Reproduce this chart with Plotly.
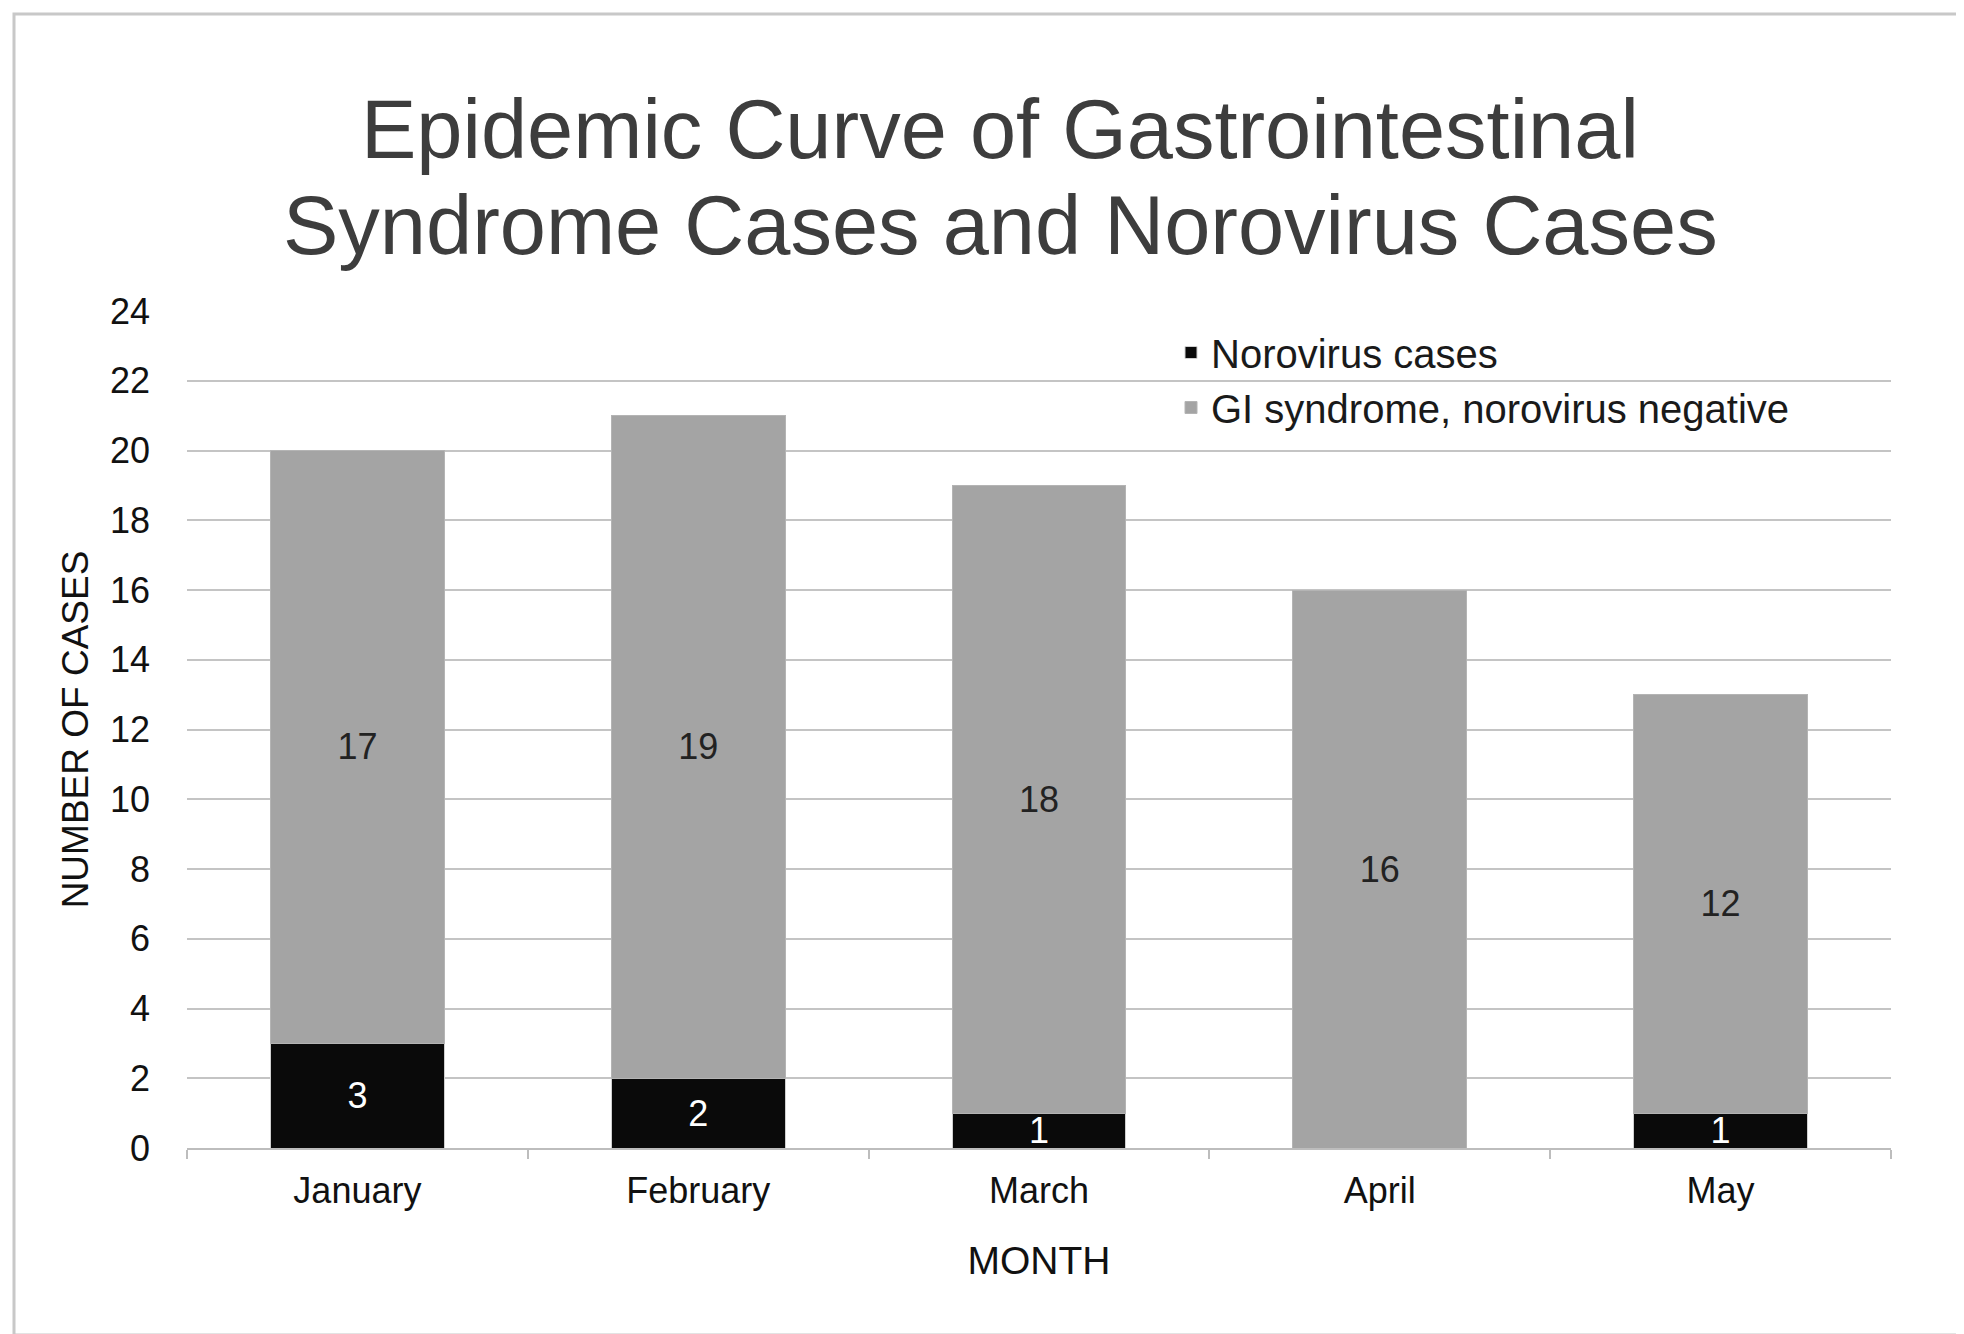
import plotly.graph_objects as go

months = ["January", "February", "March", "April", "May"]
norovirus = [3, 2, 1, 0, 1]
gi_negative = [17, 19, 18, 16, 12]
y_ticks = [0, 2, 4, 6, 8, 10, 12, 14, 16, 18, 20, 22, 24]
title_lines = ["Epidemic Curve of Gastrointestinal", "Syndrome Cases and Norovirus Cases"]

FONT = "Liberation Sans, Arial, sans-serif"
W, H = 1964, 1334
L, R, T, B = 179, 81, 303, 194
pw, ph = W - L - R, H - T - B

def px_x(px):
    return (px - L) / pw

def px_y(py):
    return (H - B - py) / ph

fig = go.Figure()
fig.add_trace(go.Bar(
    x=months, y=norovirus, name="Norovirus cases",
    marker=dict(color="#0a0a0a", line=dict(color="#d0d0d0", width=1)),
    text=[str(v) if v else "" for v in norovirus],
    textposition="inside", insidetextanchor="middle", constraintext="none", textangle=0,
    textfont=dict(family=FONT, size=36, color="white"),
))
fig.add_trace(go.Bar(
    x=months, y=gi_negative, name="GI syndrome, norovirus negative",
    marker=dict(color="#a4a4a4", line=dict(color="#b4b4b4", width=1)),
    text=[str(v) for v in gi_negative],
    textposition="inside", insidetextanchor="middle", constraintext="none", textangle=0,
    textfont=dict(family=FONT, size=36, color="#222222"),
))

title_centers = [121, 218]
annotations = [
    dict(text=t, xref="paper", yref="paper", x=px_x(992), y=px_y(cy),
         xanchor="center", yanchor="middle", showarrow=False,
         font=dict(family=FONT, size=83, color="#3d3d3d"))
    for t, cy in zip(title_lines, title_centers)
]

fig.update_layout(
    width=W, height=H,
    barmode="stack", bargap=0.49,
    paper_bgcolor="white", plot_bgcolor="white",
    margin=dict(l=L, r=R, t=T, b=B, autoexpand=False),
    font=dict(family=FONT, color="#111111"),
    annotations=annotations,
    legend=dict(
        x=px_x(1163), y=px_y(312), xanchor="left", yanchor="top",
        traceorder="normal", bgcolor="rgba(0,0,0,0)",
        font=dict(family=FONT, size=40, color="#1a1a1a"),
        itemwidth=30, tracegroupgap=0,
    ),
    xaxis=dict(
        type="category", showgrid=False, showline=True,
        linecolor="#bdbdbd", linewidth=2,
        ticks="outside", tickson="boundaries", ticklen=9,
        tickcolor="#bdbdbd", tickwidth=2, ticklabelstandoff=10,
        tickfont=dict(family=FONT, size=36, color="#111111"),
        title=dict(text="MONTH", font=dict(family=FONT, size=39, color="#111111"), standoff=36),
    ),
    yaxis=dict(
        range=[0, 24], tickvals=y_ticks, showgrid=True,
        gridcolor="#c4c4c4", gridwidth=2, zeroline=False, showline=False,
        ticks="", ticklabelstandoff=36,
        tickfont=dict(family=FONT, size=36, color="#111111"),
        title=dict(text="NUMBER OF CASES", font=dict(family=FONT, size=37, color="#111111"), standoff=10),
    ),
    shapes=[dict(
        type="rect", xref="paper", yref="paper",
        x0=px_x(6), x1=px_x(1958), y0=px_y(1327), y1=px_y(6),
        line=dict(color="#c8c8c8", width=3), fillcolor="rgba(0,0,0,0)", layer="below",
    )],
)

fig.write_html("out.html")
